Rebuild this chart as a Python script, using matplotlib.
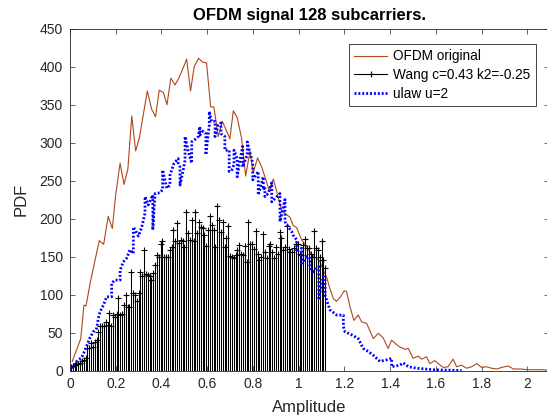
import numpy as np
import matplotlib
matplotlib.use('Agg')
import matplotlib.pyplot as plt
from matplotlib.lines import Line2D
from matplotlib.legend_handler import HandlerLine2D
from matplotlib.ticker import FuncFormatter, MultipleLocator

plt.rcParams['font.family'] = ['Liberation Sans', 'DejaVu Sans']

# OFDM original (histogram curve)
ofdm_x = [0.010, 0.047, 0.061, 0.070, 0.090, 0.110, 0.128, 0.147, 0.167, 0.185,
          0.200, 0.219, 0.236, 0.253, 0.270, 0.287, 0.303, 0.320, 0.338, 0.357,
          0.374, 0.390, 0.408, 0.424, 0.441, 0.459, 0.476, 0.493, 0.510, 0.527,
          0.543, 0.562, 0.580, 0.597, 0.615, 0.629, 0.648, 0.666, 0.682, 0.699,
          0.714, 0.731, 0.750, 0.768, 0.787, 0.801, 0.820, 0.838, 0.852, 0.871,
          0.889, 0.906, 0.925, 0.943, 0.961, 0.976, 0.991, 1.013, 1.035, 1.056,
          1.075, 1.090, 1.107, 1.122, 1.136, 1.151, 1.165, 1.183, 1.199, 1.209,
          1.224, 1.241, 1.260, 1.275, 1.297, 1.326, 1.348, 1.369, 1.391, 1.406,
          1.428, 1.442, 1.464, 1.479, 1.500, 1.522, 1.537, 1.559, 1.573, 1.595,
          1.610, 1.632, 1.653, 1.675, 1.690, 1.712, 1.734, 1.756, 1.778, 1.800,
          1.821, 1.843, 1.865, 1.887, 1.916, 1.938, 1.967, 2.003, 2.030, 2.060,
          2.090]
ofdm_y = [12, 42, 86, 85, 118, 146, 171, 166, 203, 187,
          232, 273, 245, 265, 335, 289, 306, 336, 368, 344,
          334, 369, 366, 350, 385, 376, 385, 397, 410, 368,
          400, 411, 406, 405, 347, 347, 308, 328, 317, 305,
          342, 333, 306, 256, 289, 260, 280, 268, 255, 237,
          252, 233, 211, 206, 202, 191, 188, 172, 163, 153,
          148, 145, 132, 123, 108, 95, 91, 97, 105, 104,
          84, 66, 73, 64, 62, 42, 49, 43, 29, 40,
          34, 31, 28, 29, 16, 19, 15, 18, 9, 13,
          9, 4, 5, 15, 5, 7, 3, 5, 9, 4,
          5, 3, 2, 4, 6, 2, 2, 1, 1, 1,
          0.5]

# Wang compander (stem), bin width 0.008
wang_bin = 0.008
wang_y = [5, 6, 7, 9, 9, 10, 12, 14, 17, 29,
          29, 36, 31, 38, 40, 51, 58, 58, 59, 64,
          60, 76, 58, 73, 71, 75, 95, 73, 75, 86,
          99, 83, 84, 130, 102, 99, 91, 102, 130, 124,
          159, 127, 126, 124, 119, 128, 139, 152, 150, 167,
          170, 150, 149, 150, 159, 163, 185, 170, 194, 168,
          172, 171, 163, 209, 181, 172, 198, 170, 209, 181,
          196, 189, 187, 178, 164, 185, 203, 192, 185, 163,
          217, 198, 183, 196, 163, 175, 190, 151, 150, 148,
          152, 159, 165, 154, 152, 164, 143, 195, 167, 167,
          160, 184, 154, 145, 150, 180, 156, 148, 164, 167,
          156, 148, 163, 154, 182, 174, 159, 163, 190, 160,
          156, 156, 161, 167, 167, 154, 152, 165, 173, 161,
          161, 154, 150, 184, 161, 159, 150, 170, 145, 135]
wang_x = wang_bin / 2 + wang_bin * np.arange(len(wang_y))

# ulaw u=2
ulaw_x = [0.007, 0.029, 0.051, 0.066, 0.087, 0.102, 0.117, 0.124, 0.131, 0.146,
          0.160, 0.182, 0.182, 0.197, 0.219, 0.219, 0.233, 0.248, 0.262, 0.277,
          0.277, 0.299, 0.313, 0.328, 0.328, 0.342, 0.362, 0.362, 0.372, 0.393,
          0.405, 0.405, 0.423, 0.437, 0.437, 0.455, 0.473, 0.473, 0.481, 0.481,
          0.495, 0.503, 0.503, 0.516, 0.532, 0.532, 0.546, 0.561, 0.568, 0.568,
          0.581, 0.594, 0.594, 0.609, 0.609, 0.619, 0.634, 0.634, 0.648, 0.660,
          0.660, 0.677, 0.677, 0.696, 0.696, 0.707, 0.717, 0.717, 0.731, 0.731,
          0.743, 0.755, 0.755, 0.775, 0.775, 0.787, 0.799, 0.799, 0.823, 0.823,
          0.845, 0.845, 0.852, 0.852, 0.867, 0.874, 0.882, 0.882, 0.918, 0.918,
          0.940, 0.940, 0.954, 0.969, 0.976, 0.991, 0.991, 1.013, 1.013, 1.035,
          1.049, 1.049, 1.063, 1.088, 1.088, 1.107, 1.115, 1.115, 1.136, 1.166,
          1.195, 1.195, 1.202, 1.231, 1.260, 1.282, 1.304, 1.326, 1.355, 1.384,
          1.406, 1.406, 1.442, 1.457, 1.479, 1.515, 1.588, 1.712]
ulaw_y = [3, 12, 17, 27, 43, 51, 56, 69, 77, 86,
          97, 97, 115, 119, 119, 132, 143, 148, 159, 154,
          189, 177, 188, 207, 229, 218, 231, 185, 233, 234,
          238, 264, 240, 244, 257, 273, 279, 273, 268, 244,
          264, 277, 308, 290, 273, 301, 304, 308, 321, 310,
          315, 312, 284, 323, 341, 328, 328, 308, 323, 326,
          312, 308, 290, 290, 262, 264, 271, 290, 279, 255,
          277, 295, 268, 284, 301, 286, 273, 251, 262, 231,
          255, 238, 242, 229, 233, 240, 247, 222, 233, 196,
          225, 196, 189, 183, 178, 172, 156, 161, 141, 150,
          148, 135, 130, 137, 95, 124, 119, 99, 80, 73,
          73, 58, 51, 47, 42, 29, 25, 20, 12, 14,
          16, 5, 7, 10, 5, 3, 1, 0]

labels = ['OFDM original', 'Wang c=0.43 k2=-0.25', 'ulaw u=2']
axis_col = '#262626'


class HandlerStem(HandlerLine2D):
    # matlab-like stem legend: marker at the right end of the line
    def get_xdata(self, legend, xdescent, ydescent, width, height, fontsize):
        return [-xdescent, -xdescent + width], [-xdescent + width]


fig = plt.figure(figsize=(5.47, 4.17), dpi=100)
ax = fig.add_axes([70 / 547, 46.5 / 417, 478.5 / 547, 341.8 / 417])

ax.plot(ofdm_x, ofdm_y, color='#b0461b', lw=0.8, zorder=2)
ax.vlines(wang_x, 0, wang_y, colors='k', lw=0.75, zorder=2.1)
ax.plot(wang_x, wang_y, 'k+', ms=5, mew=0.8, zorder=2.2)
ax.plot(ulaw_x, ulaw_y, color='#0000ff', lw=2.0, ls=(0, (0.7, 0.7)),
        dash_capstyle='butt', zorder=2.3)

ax.set_xlim(0, 2.092)
ax.set_ylim(0, 450)
ax.xaxis.set_major_locator(MultipleLocator(0.2))
ax.yaxis.set_major_locator(MultipleLocator(50))
ax.xaxis.set_major_formatter(FuncFormatter(lambda v, p: f'{v:g}'))
ax.tick_params(direction='in', top=True, right=True, length=3.5, width=0.5,
               colors=axis_col, labelsize=10, pad=5)
for s in ax.spines.values():
    s.set_color(axis_col)
    s.set_linewidth(0.6)

ax.set_xlabel('Amplitude', fontsize=12, color=axis_col, labelpad=6)
ax.set_ylabel('PDF', fontsize=12, color=axis_col, labelpad=8)
ax.set_title('OFDM signal 128 subcarriers.', fontsize=12, fontweight='bold', pad=6)

h_ofdm = Line2D([], [], color='#b0461b', lw=0.8)
h_wang = Line2D([], [], color='k', lw=0.8, marker='+', ms=5, mew=0.8)
h_ulaw = Line2D([], [], color='#0000ff', lw=2.0, ls=(0, (0.7, 0.7)), dash_capstyle='butt')
leg = ax.legend([h_ofdm, h_wang, h_ulaw], labels, loc='upper left',
                bbox_to_anchor=(349 / 547, 1 - 44 / 417), bbox_transform=fig.transFigure,
                borderaxespad=0, fontsize=9.8, handlelength=2.4, handletextpad=0.45,
                borderpad=0.4, labelspacing=0.35, fancybox=False, framealpha=1,
                edgecolor=axis_col, numpoints=1,
                handler_map={h_wang: HandlerStem()})
leg.get_frame().set_linewidth(0.6)

fig.savefig('out.png', dpi=100)
